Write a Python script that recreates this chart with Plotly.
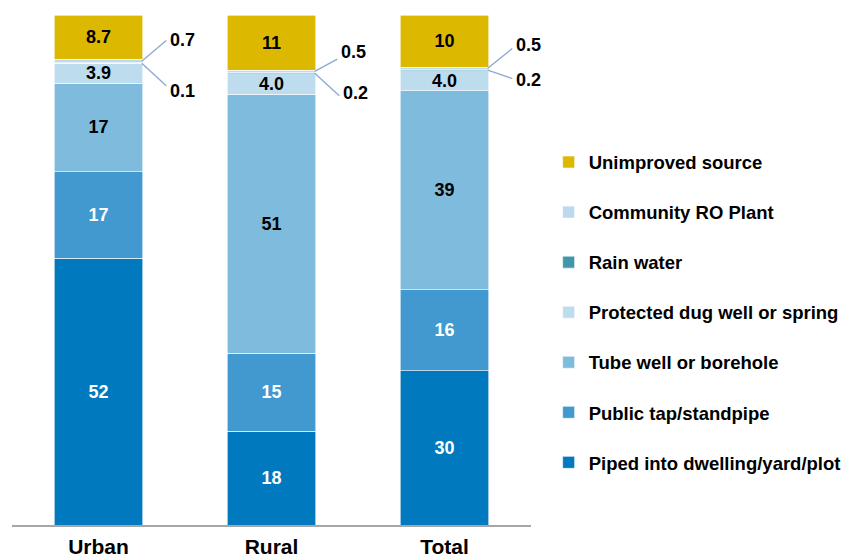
import plotly.graph_objects as go

# ---- data ----
categories = ["Urban", "Rural", "Total"]
piped = [52.3, 18.4, 30.2]
public_tap = [17.0, 15.3, 15.9]
tube_well = [17.3, 50.8, 39.0]
protected_well = [3.9, 4.0, 4.0]
rain_water = [0.1, 0.2, 0.2]
community_ro = [0.7, 0.5, 0.5]
unimproved = [8.7, 10.8, 10.2]

series_names = [
    "Piped into dwelling/yard/plot",
    "Public tap/standpipe",
    "Tube well or borehole",
    "Protected dug well or spring",
    "Rain water",
    "Community RO Plant",
    "Unimproved source",
]
series_values = [piped, public_tap, tube_well, protected_well, rain_water, community_ro, unimproved]
series_colors = ["#0079BF", "#4199CF", "#7FBBDD", "#BDDDEF", "#4196AA", "#BED8EE", "#DDB800"]
label_colors = ["white", "white", "black", "black", None, None, "black"]

FONT = "Liberation Sans, Arial, sans-serif"


def fmt(v):
    return f"{v:.0f}" if v >= 10 else f"{v:.1f}"


fig = go.Figure()
n = len(series_names)
for i, (name, vals, col, lc) in enumerate(zip(series_names, series_values, series_colors, label_colors)):
    fig.add_trace(go.Bar(
        x=categories, y=vals, name=name, legendgroup=name, legendrank=n - i,
        marker=dict(color=col, line=dict(color="white", width=0.6)),
        text=[fmt(v) for v in vals] if lc else None,
        textposition="inside" if lc else "none",
        insidetextanchor="middle",
        textangle=0,
        textfont=dict(family=FONT, size=18, color=lc or "black", weight="bold"),
        hoverinfo="skip",
    ))

# ---- callouts for the small segments (rain water & community RO) ----
# (pixel offsets of line end and label relative to the segment point)
callout_series = [(4, [(26, 24, -28), (26, 24, -20), (26, 9, -10)]),
                  (5, [(26, -22, 21), (24, -13, 19), (26, -21, 23)])]
annotations = []
for si, offsets in callout_series:
    for ci in range(len(categories)):
        base = sum(series_values[k][ci] for k in range(si))
        yc = base + series_values[si][ci] / 2
        ax, ay, ys = offsets[ci]
        annotations.append(dict(
            x=ci + 0.25, y=yc, xref="x", yref="y", text=" ",
            showarrow=True, arrowhead=0, arrowwidth=1.4, arrowcolor="#8FAAD2",
            ax=ax, ay=ay, standoff=0, startstandoff=0,
            font=dict(size=1),
        ))
        annotations.append(dict(
            x=ci + 0.25, y=yc, xref="x", yref="y",
            text=fmt(series_values[si][ci]), showarrow=False,
            xanchor="left", yanchor="middle", xshift=ax, yshift=ys,
            font=dict(family=FONT, size=18, color="black", weight="bold"),
        ))

fig.update_layout(
    width=851, height=558,
    margin=dict(l=4, r=328, t=7, b=41, autoexpand=False),
    barmode="stack", bargap=0.49,
    plot_bgcolor="white", paper_bgcolor="white",
    showlegend=True,
    legend=dict(
        x=1.034, xanchor="left", y=0.748, yanchor="top",
        traceorder="grouped", tracegroupgap=23,
        font=dict(family=FONT, size=18.5, color="black", weight="bold"),
        bgcolor="rgba(0,0,0,0)",
    ),
    uniformtext=dict(minsize=18, mode="show"),
    xaxis=dict(
        range=[-0.5, len(categories) - 0.5],
        showline=True, linecolor="#A6A6A6", linewidth=1.5,
        ticks="", showgrid=False, ticklabelstandoff=2,
        tickfont=dict(family=FONT, size=21, color="black", weight="bold"),
    ),
    yaxis=dict(range=[0, 100], visible=False, showgrid=False),
    annotations=annotations,
)

fig.write_html("out.html")
